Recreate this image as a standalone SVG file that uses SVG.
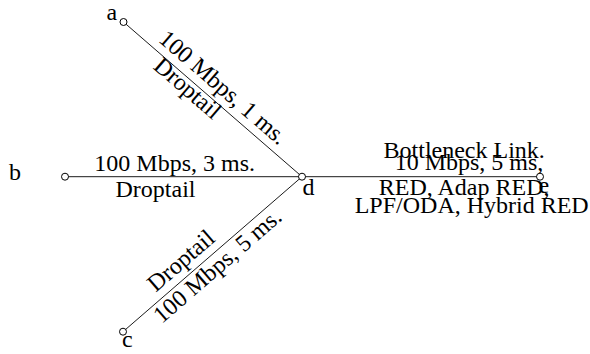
<svg xmlns="http://www.w3.org/2000/svg" width="590" height="354" viewBox="0 0 590 354">
<style>
text{font-family:"Liberation Serif","Times New Roman",serif;font-size:24px;fill:#000}
.m{text-anchor:middle}
.ln{stroke:#000;stroke-width:0.9;fill:none}
.nd{fill:#fff;stroke:#000;stroke-width:1}
</style>
<rect width="590" height="354" fill="#fff"/>
<g id="connectors">
<line class="ln" x1="123.5" y1="22" x2="302" y2="176.7"/>
<line class="ln" x1="65" y1="176.7" x2="302" y2="176.7"/>
<line class="ln" x1="123" y1="331.7" x2="302" y2="176.7"/>
<line class="ln" x1="302" y1="176.7" x2="540" y2="176.7"/>
<g transform="translate(212.75,99.35) rotate(40.87)">
<text class="m" x="0.2" y="-8">100 Mbps, 1 ms.</text>
<text class="m" x="-26.3" y="15.8">Droptail</text>
</g>
<g transform="translate(183.5,176.7)">
<text class="m" x="-8.8" y="-6">100 Mbps, 3 ms.</text>
<text class="m" x="-28" y="20">Droptail</text>
</g>
<g transform="translate(212.5,254.2) rotate(-40.93)">
<text class="m" x="-28.2" y="-8">Droptail</text>
<text class="m" x="-3.9" y="19.7">100 Mbps, 5 ms.</text>
</g>
<g id="bottleneck-label">
<text class="m" x="464.2" y="158.3">Bottleneck Link.</text>
<text class="m" x="469" y="169.5">10 Mbps, 5 ms,</text>
<text class="m" x="464.2" y="194.5">RED, Adap RED,</text>
<text class="m" x="471.7" y="212.7">LPF/ODA, Hybrid RED</text>
</g>
</g>
<g id="node-a"><circle class="nd" cx="123.5" cy="22" r="3.5"/><text x="106.5" y="20">a</text></g>
<g id="node-b"><circle class="nd" cx="65" cy="176.7" r="3.5"/><text x="9" y="180">b</text></g>
<g id="node-c"><circle class="nd" cx="123" cy="331.7" r="3.5"/><text x="122" y="347.3">c</text></g>
<g id="node-d"><circle class="nd" cx="302" cy="176.7" r="3.5"/><text x="302.5" y="195">d</text></g>
<g id="node-e"><circle class="nd" cx="540" cy="176.7" r="3.5"/><text x="538.5" y="193">e</text></g>
</svg>
